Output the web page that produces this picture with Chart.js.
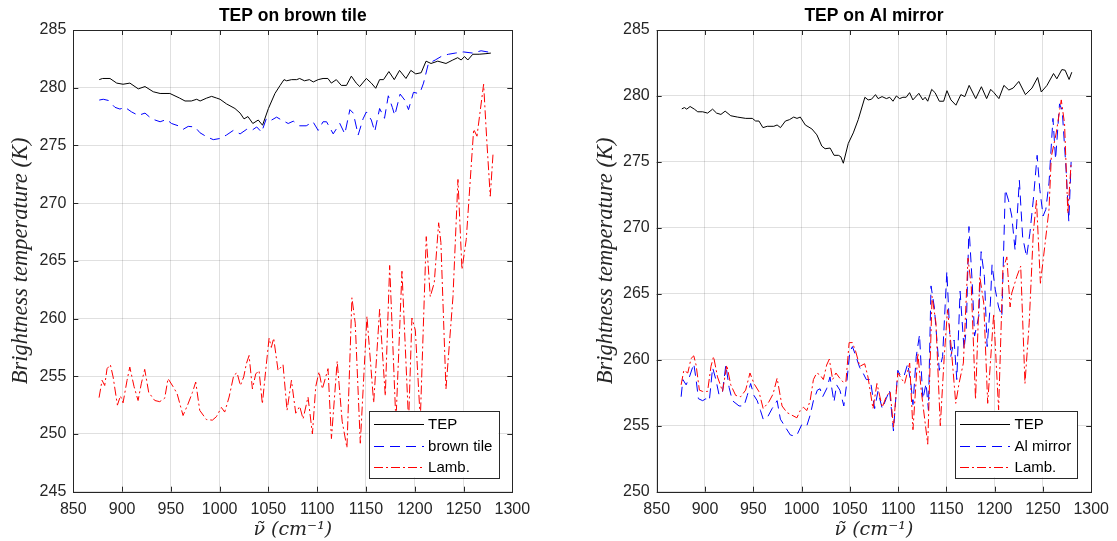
<!DOCTYPE html>
<html><head><meta charset="utf-8">
<script src="https://cdn.jsdelivr.net/npm/chart.js@4.4.1/dist/chart.umd.min.js"></script>
<style>
html,body{margin:0;padding:0;background:#fff;width:1117px;height:541px;overflow:hidden}
.wrap{position:absolute;top:0;height:541px}
#w1{left:0;width:558px}
#w2{left:558px;width:559px}
</style></head><body>
<div class="wrap" id="w1"><canvas id="c1" width="558" height="541"></canvas></div>
<div class="wrap" id="w2"><canvas id="c2" width="559" height="541"></canvas></div>
<script>
// ---------- texts ----------
const leftTitle = 'TEP on brown tile';
const rightTitle = 'TEP on Al mirror';
const leftLabels = ['TEP', 'brown tile', 'Lamb.'];
const rightLabels = ['TEP', 'Al mirror', 'Lamb.'];
const yAxisTitle = 'Brightness temperature (K)';
const xAxisTitle = 'ν\u0303 (cm\u207B\u00B9)';
const xRange = [850, 1300];
const xStep = 50;
const leftYRange = [245, 285];
const rightYRange = [250, 285];
const yStep = 5;

// ---------- left panel: TEP on brown tile ----------
const tepBrownX = [876.6,880,887.6,894.5,901,908,916.6,923.5,932,939,949,959,964.5,971,976.5,980,986.7,991.8,997,1000.4,1007,1015.7,1021,1025,1029,1034,1039.6,1044,1050,1056.7,1062,1066,1068.7,1073.8,1079,1082,1087,1092,1096,1101,1106,1111,1114.5,1119.6,1124.7,1130,1135,1140,1143.6,1150.4,1155.5,1160,1164,1168,1173.5,1179,1184.4,1191,1196,1201,1206.6,1211.6,1216.7,1223.6,1232,1239,1244,1247.6,1251,1254.4,1259.5,1266,1273,1278];
const tepBrownY = [280.7,280.8,280.8,280.4,280.3,280.4,279.9,280.1,279.65,279.5,279.5,279.1,278.85,278.85,279.0,278.85,279.1,279.25,279.1,279.0,278.6,278.2,277.8,277.3,277.5,276.9,277.2,276.75,278.2,279.5,280.2,280.7,280.6,280.7,280.7,280.8,280.6,280.7,280.5,280.7,280.8,280.8,280.4,280.7,280.2,280.2,281.0,280.4,280.1,280.8,280.4,279.95,280.7,280.7,281.4,280.7,281.5,280.8,281.5,281.2,281.3,282.3,282.1,282.3,282.1,282.4,282.6,282.4,282.7,282.4,282.9,282.9,282.95,283.0];

const tileX = [876.6,880.7,885.8,892.7,897.8,903,909.8,916.6,923.5,930.4,939,945.6,950.7,957.6,962.7,967.8,974.7,979.8,986.7,993.5,1000.4,1007,1014,1021,1027.8,1032.9,1038,1043,1048,1053.3,1058.4,1063.5,1070.3,1075.5,1082,1088.8,1095.7,1101,1106,1109.6,1116.4,1123.2,1128.3,1133.5,1137,1142,1147,1150.4,1155.5,1159,1164,1169,1172.9,1177,1179.5,1185,1190,1193.6,1198.7,1203.8,1206,1209,1214,1221,1228,1234.7,1241.5,1250,1259.5,1268,1278];
const tileY = [278.93,279.0,278.9,278.3,278.15,278.3,277.9,277.6,277.8,277.3,277.05,277.25,276.9,276.7,276.4,276.65,276.6,276.1,275.75,275.5,275.6,275.9,276.3,276.0,276.4,276.3,276.6,276.15,277.35,277.2,277.45,277.2,276.9,277.1,276.7,276.7,277.05,276.3,277.05,277.05,276.0,276.9,276.0,278.1,277.8,275.9,277.3,277.9,277.2,276.2,278.2,277.35,279.3,278.3,277.6,279.45,278.9,278.1,279.6,279.5,279.7,280.4,282.1,282.4,282.75,282.9,283.0,283.1,283.0,283.2,283.05];

const lambBrownX = [876.4,879.5,882.2,884.6,888,890.8,895.2,898.3,901,905.1,907.9,912.3,916.4,919.8,923.2,927.3,933.5,938.6,943.7,947.1,952.3,956.4,962.5,967.6,972.1,975.5,979.6,986.4,992.6,996.7,1001.8,1005.2,1009.7,1014.5,1017.9,1021.3,1024.7,1027.4,1030.2,1033.6,1037,1040.4,1043.8,1047.2,1050.7,1053,1055.4,1059.9,1065,1069.1,1073.6,1078,1082.1,1085.5,1090.6,1095.1,1098.5,1101.9,1105.3,1111.1,1114.6,1120.5,1125.6,1130.5,1135.6,1139,1144.2,1151,1157.9,1164,1169.8,1174.3,1180.7,1186.9,1193.7,1197.1,1200.6,1205.7,1211.8,1215.9,1220,1224.5,1226.8,1232,1239.2,1244.3,1248.4,1252.8,1260.4,1263.8,1270.6,1274,1277.4,1280.2];
const lambBrownY = [253.15,254.65,254.2,255.66,256.0,254.95,252.5,253.3,252.7,254.65,255.8,254.1,252.9,254.4,255.6,253.6,252.9,252.8,253.1,254.8,254.1,253.5,251.6,252.6,253.6,254.5,252.05,251.25,251.2,251.5,252.3,251.9,253.2,255.1,255.3,254.2,254.95,256.1,256.8,253.9,255.2,255.5,252.6,255.5,258.3,257.5,258.3,255.5,256.0,252.05,254.65,251.8,252.4,251.3,253.2,250.0,254.1,255.4,253.9,255.66,249.6,256.3,251.1,248.8,261.8,259.6,249.2,260.2,252.7,260.8,253.3,264.6,251.0,264.1,251.0,260.05,259.0,251.2,267.1,261.9,263.1,268.3,266.6,253.9,261.9,272.05,264.25,266.85,276.4,275.8,280.3,275.2,270.6,274.2];

// ---------- right panel: TEP on Al mirror ----------
const tepAlX = [876,878.7,881.1,884.6,889,892.5,897.6,902.7,907.9,912,916.5,920.9,926.7,933.6,942.2,949,952.5,955.9,960,964.5,971.3,974.7,978.2,983.3,987.4,991.9,995.3,998.7,1003.9,1010.7,1015.9,1021,1024.4,1029.6,1033.7,1038.2,1040.6,1043.3,1048.4,1053.6,1058.7,1065.6,1069,1072.4,1076.6,1079.3,1083.4,1087.9,1091.3,1094.7,1098.2,1101.6,1105,1108.4,1111.9,1115.3,1121.5,1125.6,1128,1130.7,1134.8,1138.3,1142.7,1147.2,1150.6,1154.7,1159.9,1165,1169.1,1173.6,1180.4,1186.3,1191.7,1195.9,1199.3,1204.4,1209.6,1214.7,1219.2,1225,1231.9,1238.7,1244.5,1248.3,1254.2,1261,1264.4,1269.6,1273,1277.1,1279.9];
const tepAlY = [279.02,279.12,279.0,279.2,279.0,278.8,278.8,278.7,279.0,278.7,278.6,278.85,278.5,278.4,278.3,278.3,278.1,278.1,277.6,277.7,277.7,277.8,277.6,278.1,278.2,278.4,278.3,278.4,277.8,277.5,277.05,276.2,276.0,276.05,275.5,275.5,275.4,274.9,276.4,277.2,278.2,279.9,279.7,279.75,280.1,279.8,279.95,279.8,279.9,279.6,280.0,279.8,279.9,279.9,280.25,279.7,280.2,279.7,279.9,279.6,280.5,280.25,279.6,279.6,280.4,279.7,279.3,280.1,279.95,280.8,279.8,280.7,279.8,280.5,280.25,279.8,280.8,280.45,280.6,281.1,280.1,280.6,281.4,280.3,280.8,281.7,281.3,282.0,281.95,281.25,281.8];

const alX = [875.3,877.1,880.5,883.9,888.4,890.8,893.2,897.6,901,904.5,907.9,911.3,914.7,918.2,921.6,925,928.4,935.3,940.4,943.8,947.3,950.7,954.1,957.5,960.3,964.4,969.5,974.7,978.1,983.2,988.4,993.5,995.9,1000.3,1005.5,1008.9,1012.3,1016.4,1019.2,1021.9,1026,1029.5,1033.6,1036.3,1039.7,1043.8,1046.6,1050,1052.7,1056.2,1060.3,1063.7,1067.1,1071.2,1075.7,1079.1,1083.6,1087.7,1091.1,1095.2,1099.7,1103.1,1106.5,1110,1113.4,1115.4,1118.8,1122.2,1125.6,1129,1131.4,1134.1,1137.5,1142.7,1146.1,1150.5,1154.6,1158,1160.8,1164.2,1168.3,1170.6,1173.4,1176.8,1179.2,1183.6,1186,1189.4,1192.2,1195.6,1197.3,1200.7,1204.1,1207.5,1211,1214.3,1217.7,1221.2,1225.6,1229,1233.1,1236.5,1240,1244,1246.8,1250.2,1253,1256.3,1260.4,1263.1,1267.2,1270,1274,1276.8,1279.2];
const alY = [257.2,258.5,258.1,258.7,259.7,258.5,257.05,256.9,257.05,256.9,259.4,258.5,257.3,257.6,259.6,257.9,256.9,256.5,256.5,257.3,258.2,257.3,256.9,256.15,255.5,255.6,256.3,256.9,255.5,254.9,254.3,254.2,254.4,255.1,255.0,255.8,256.9,257.7,257.8,257.2,257.8,258.7,256.8,258.1,257.7,256.5,258.1,260.6,261.0,260.3,259.4,259.0,258.5,258.5,256.3,257.6,256.3,257.05,257.7,254.6,259.2,258.7,258.85,259.7,258.1,256.6,260.25,261.9,257.0,258.2,256.2,265.6,264.0,259.2,260.25,266.7,260.25,261.5,258.5,265.2,260.8,262.3,270.1,265.8,261.8,263.3,268.2,266.3,261.0,264.3,267.2,265.3,264.0,263.3,272.9,272.1,270.9,268.3,273.6,269.3,267.8,269.6,272.1,275.5,272.9,270.9,271.4,273.4,278.3,275.2,279.4,278.9,274.4,270.5,275.0];

const lambAlX = [875.3,878.1,882.2,885.6,888.4,890.8,894.2,897.6,902.7,906.2,908.9,913,918.2,922.6,926.7,931.8,937,942.1,946.6,950.7,955.8,960.3,966.1,970.5,974.7,979.8,984.9,990.1,995.2,998.6,1002,1005.5,1008.9,1012.3,1015.7,1019.2,1022.6,1026,1028.8,1032.2,1035.6,1039.7,1043.2,1045.9,1049.3,1052.7,1056.2,1060.3,1065.4,1068.8,1074,1078.1,1083.6,1087.7,1091.8,1095.2,1099.7,1106.8,1112,1115.4,1120.5,1123.9,1130.7,1135.2,1139.2,1143.7,1147.8,1151.2,1154.6,1159.7,1163.1,1167.6,1172.4,1175.8,1180.2,1184.6,1188.7,1192.8,1199,1204.1,1208.5,1212.6,1216,1217.7,1222.9,1227,1231.4,1235.8,1240,1243.3,1247.4,1251.9,1256.3,1258.7,1263.8,1269,1272.4,1275.8,1279.2];
const lambAlY = [258.1,259.2,259.0,260.1,260.3,259.6,257.7,257.6,257.6,259.5,260.25,258.7,257.6,259.6,258.1,257.3,257.2,257.7,259.0,258.2,257.6,256.3,256.8,257.4,258.6,256.5,256.0,255.8,255.6,256.15,256.4,256.15,256.9,258.5,259.0,258.85,258.5,259.6,260.05,258.5,259.0,258.6,258.3,258.3,261.3,261.3,260.6,259.5,259.7,258.7,256.3,258.2,256.4,257.2,257.6,254.9,259.0,258.2,259.75,254.7,260.5,257.7,253.6,264.8,262.8,255.0,260.25,263.8,261.3,256.7,258.2,259.75,267.7,265.55,257.0,266.3,264.3,256.7,263.5,256.2,266.8,267.8,264.0,265.05,266.3,267.1,258.2,262.8,269.6,272.1,265.8,268.6,271.4,275.4,277.2,279.7,277.9,271.1,274.9];

// ---------- helpers ----------
const pts = (xs, ys) => xs.map((x, i) => ({x: x, y: ys[i]}));
const SANS = '"Liberation Sans", Arial, Helvetica, sans-serif';
const SERIF = '"Liberation Serif", "Times New Roman", serif';
const SERIF2 = '"DejaVu Serif", serif';
const AXIS_COLOR = '#262626';

const frameLegend = {
  id: 'frameLegend',
  afterDatasetsDraw(chart) {
    const ctx = chart.ctx, a = chart.chartArea;
    const xs = chart.scales.x, ys = chart.scales.y;
    ctx.save();
    ctx.setLineDash([]);
    ctx.strokeStyle = AXIS_COLOR;
    ctx.lineWidth = 1;
    ctx.beginPath();
    xs.ticks.forEach(t => {
      const p = Math.round(xs.getPixelForValue(t.value)) + 0.5;
      ctx.moveTo(p, a.bottom); ctx.lineTo(p, a.bottom - 5);
      ctx.moveTo(p, a.top); ctx.lineTo(p, a.top + 5);
    });
    ys.ticks.forEach(t => {
      const p = Math.round(ys.getPixelForValue(t.value)) + 0.5;
      ctx.moveTo(a.left, p); ctx.lineTo(a.left + 5, p);
      ctx.moveTo(a.right, p); ctx.lineTo(a.right - 5, p);
    });
    ctx.stroke();
    const L = Math.round(a.left) + 0.5, T = Math.round(a.top) + 0.5;
    ctx.strokeRect(L, T, Math.round(a.right) - Math.round(a.left), Math.round(a.bottom) - Math.round(a.top));

    // legend (bottom-right inside axes)
    ctx.font = '15px ' + SANS;
    const items = chart.data.datasets;
    const tw = Math.max(...items.map(d => ctx.measureText(d.label).width));
    const lineLen = 50, padL = 5, gap = 4.5, padR = 6, h = 66.6;
    const w = padL + lineLen + gap + tw + padR;
    const bx = a.right - 14 - w, by = a.bottom - 14.4 - h;
    ctx.fillStyle = '#fff';
    ctx.fillRect(bx, by, w, h);
    ctx.strokeStyle = '#2a2a2a';
    ctx.strokeRect(Math.round(bx) + 0.5, Math.round(by) + 0.5, Math.round(w), Math.round(h));
    items.forEach((d, i) => {
      const yy = Math.round(by + 13.5 + i * 21.3) + 0.5;
      ctx.save();
      ctx.beginPath();
      ctx.strokeStyle = d.borderColor;
      ctx.lineWidth = 1;
      ctx.setLineDash(d.borderDash || []);
      ctx.moveTo(Math.round(bx + padL), yy);
      ctx.lineTo(Math.round(bx + padL + lineLen), yy);
      ctx.stroke();
      ctx.restore();
      ctx.fillStyle = '#000';
      ctx.textBaseline = 'middle';
      ctx.textAlign = 'left';
      ctx.fillText(d.label, bx + padL + lineLen + gap, yy);
    });
    ctx.restore();
  }
};

function makeChart(id, title, labels, series, yRange, yAxisWidth, yTitlePad, rightPad) {
  const styles = [
    {color: '#000000', dash: [], order: 3},
    {color: '#0000ff', dash: [10, 6], order: 2},
    {color: '#ff0000', dash: [9, 3, 2, 3], order: 1}
  ];
  const datasets = series.map((s, i) => ({
    label: labels[i],
    data: pts(s[0], s[1]),
    borderColor: styles[i].color,
    borderDash: styles[i].dash,
    borderWidth: 1,
    pointRadius: 0,
    pointHoverRadius: 0,
    tension: 0,
    fill: false,
    order: styles[i].order
  }));
  return new Chart(document.getElementById(id), {
    type: 'line',
    data: {datasets: datasets},
    options: {
      responsive: false,
      animation: false,
      events: [],
      layout: {padding: {left: 0, right: rightPad, top: 0, bottom: 0}},
      plugins: {
        legend: {display: false},
        tooltip: {enabled: false},
        title: {
          display: true, text: title, fullSize: false, color: '#000',
          font: {family: SANS, size: 17.5, weight: 'bold', lineHeight: 1.2},
          padding: {top: 6, bottom: 3}
        }
      },
      scales: {
        x: {
          type: 'linear', min: xRange[0], max: xRange[1],
          afterFit: s => { s.height = 49.3; },
          border: {display: false},
          grid: {color: 'rgba(38,38,38,0.14)', drawTicks: false, lineWidth: 1},
          ticks: {stepSize: xStep, autoSkip: false, maxRotation: 0, padding: 8,
                  callback: v => String(v),
                  color: AXIS_COLOR, font: {family: SANS, size: 16}},
          title: {display: true, text: xAxisTitle, color: AXIS_COLOR,
                  font: {family: SERIF2, size: 19, style: 'italic', lineHeight: 1},
                  padding: {top: 0, bottom: 1.5}}
        },
        y: {
          type: 'linear', min: yRange[0], max: yRange[1],
          afterFit: s => { s.width = yAxisWidth; },
          border: {display: false},
          grid: {color: 'rgba(38,38,38,0.14)', drawTicks: false, lineWidth: 1},
          ticks: {stepSize: yStep, padding: 7, callback: v => String(v),
                  color: AXIS_COLOR, font: {family: SANS, size: 16}},
          title: {display: true, text: yAxisTitle, color: AXIS_COLOR,
                  font: {family: SERIF, size: 22.5, style: 'italic', lineHeight: 1.2},
                  padding: {top: yTitlePad, bottom: 0}}
        }
      }
    },
    plugins: [frameLegend]
  });
}

makeChart('c1', leftTitle, leftLabels,
  [[tepBrownX, tepBrownY], [tileX, tileY], [lambBrownX, lambBrownY]],
  leftYRange, 73.3, 8, 558 - 512.3);
makeChart('c2', rightTitle, rightLabels,
  [[tepAlX, tepAlY], [alX, alY], [lambAlX, lambAlY]],
  rightYRange, 98.7, 34.4, 559 - 536);
</script>
</body></html>
